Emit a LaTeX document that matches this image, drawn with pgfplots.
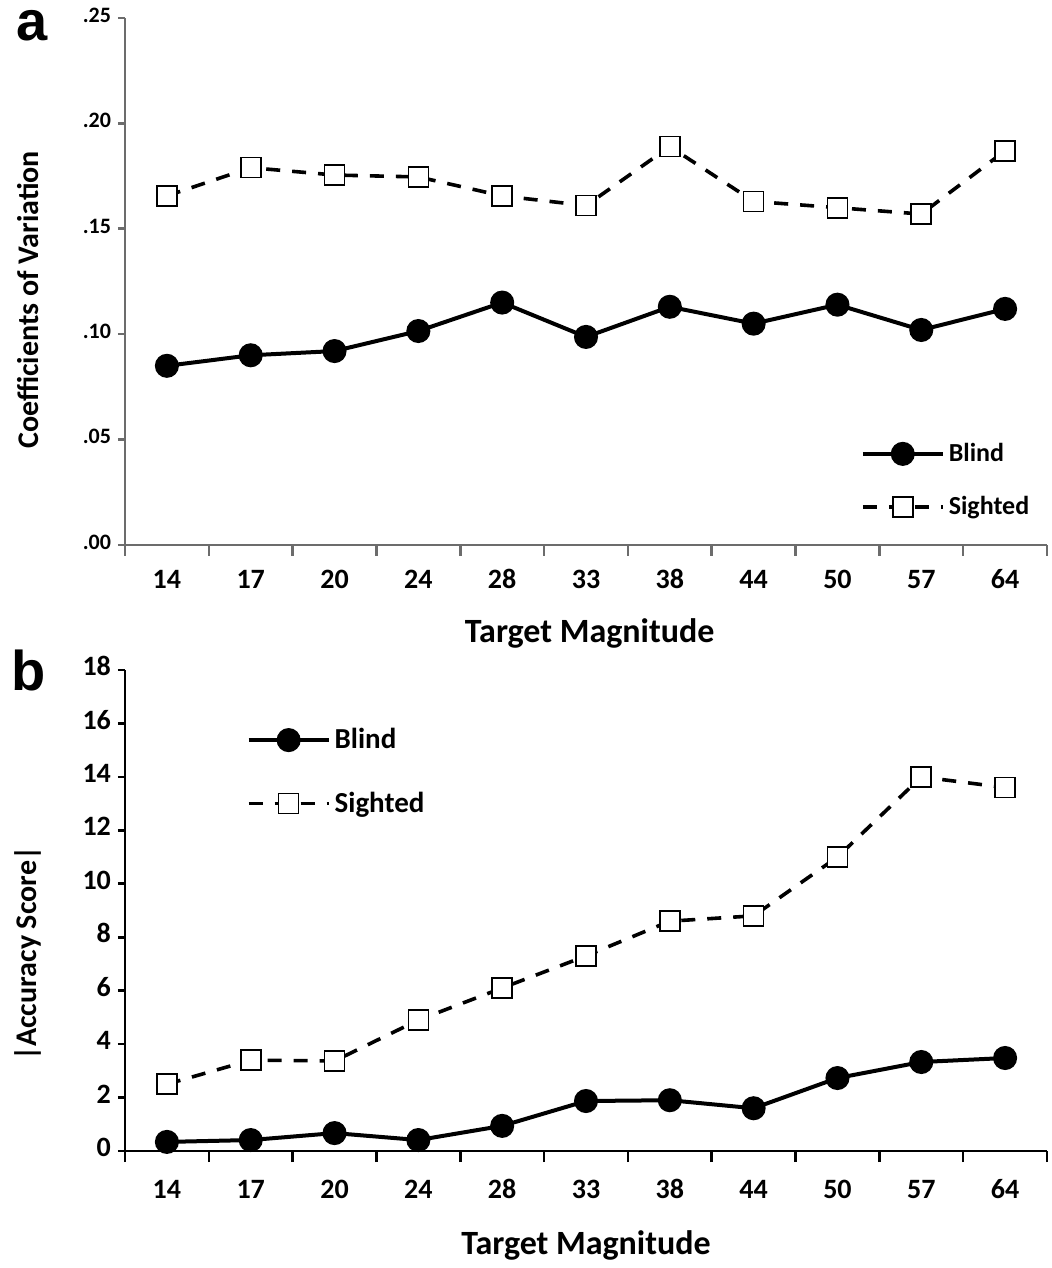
\documentclass[border=0pt]{standalone}
\usepackage{pgfplots}
\pgfplotsset{compat=1.18}
\usepackage{fontspec}
\setmainfont{Carlito}
\newfontfamily\panelfont{Liberation Sans}

\pgfplotsset{
  cvstyle/.style={
    scale only axis,
    xmin=-0.5, xmax=10.5,
    axis x line*=bottom, axis y line*=left,
    tick align=outside,
    xtick={0,...,10},
    xticklabels={14,17,20,24,28,33,38,44,50,57,64},
    major x tick style={draw=none},
    minor xtick={-0.5,0.5,...,10.5},
    major tick length=3.5pt,
    minor tick length=5.5pt,
    clip=false,
    typeset ticklabels with strut,
    /pgf/number format/assume math mode=true,
    legend cell align=left,
    legend image code/.code={
      \draw[mark repeat=2,mark phase=2,##1] plot coordinates {(0pt,0pt) (20pt,0pt) (40pt,0pt)};
    },
  },
  blind/.style={black, line width=2pt, mark=*, mark size=5pt},
  sighted/.style={black, line width=1.8pt, dash pattern=on 7pt off 6pt,
    mark=square*, mark size=5pt, mark options={solid, fill=white, line width=0.8pt}},
}

\begin{document}
\begin{tikzpicture}
\path[use as bounding box] (-62.5pt,-58.5pt) rectangle (463.5pt,575.5pt);

% panel a
\begin{axis}[
  cvstyle,
  at={(0,303pt)}, anchor=south west,
  width=461pt, height=263.5pt,
  ymin=0, ymax=0.25,
  ytick={0,0.05,0.10,0.15,0.20,0.25},
  yticklabels={.00,.05,.10,.15,.20,.25},
  axis line style={-, line width=1.3pt, gray!85!black},
  every tick/.style={line width=1.3pt, gray!85!black},
  yticklabel style={font=\bfseries\fontsize{11}{11}\selectfont},
  xticklabel style={font=\bfseries\fontsize{14}{14}\selectfont, yshift=-5pt},
  xlabel={Target Magnitude},
  ylabel={Coefficients of Variation},
  xlabel style={font=\bfseries\fontsize{17}{17}\selectfont, at={(axis description cs:0.504,0)}, anchor=center, yshift=-44pt},
  ylabel style={font=\bfseries\fontsize{15}{15}\selectfont, at={(axis description cs:-0.105,0.465)}, anchor=center},
  legend style={draw=none, fill=none, at={(0.992,0.209)}, anchor=north east,
    font=\bfseries\fontsize{13}{13}\selectfont, row sep=12pt},
]
\addplot[blind] coordinates {
  (0,0.085) (1,0.090) (2,0.092) (3,0.1015) (4,0.115) (5,0.0987)
  (6,0.113) (7,0.105) (8,0.114) (9,0.102) (10,0.112)
};
\addplot[sighted] coordinates {
  (0,0.1656) (1,0.179) (2,0.1755) (3,0.1746) (4,0.1656) (5,0.161)
  (6,0.189) (7,0.163) (8,0.160) (9,0.157) (10,0.187)
};
\legend{Blind,Sighted}
\node[font=\panelfont\bfseries\fontsize{28}{28}\selectfont, inner sep=0pt] at (rel axis cs:-0.101,0.985) {a};
\end{axis}

% panel b
\begin{axis}[
  cvstyle,
  at={(0,0)}, anchor=south west,
  width=461pt, height=240.5pt,
  ymin=0, ymax=18,
  ytick={0,2,...,18},
  axis line style={-, line width=1.3pt, black},
  every tick/.style={line width=1.3pt, black},
  yticklabel style={font=\bfseries\fontsize{14}{14}\selectfont},
  xticklabel style={font=\bfseries\fontsize{14}{14}\selectfont, yshift=-7pt},
  xlabel={Target Magnitude},
  ylabel={|Accuracy Score|},
  xlabel style={font=\bfseries\fontsize{17}{17}\selectfont, at={(axis description cs:0.5,0)}, anchor=center, yshift=-47pt},
  ylabel style={font=\bfseries\fontsize{15}{15}\selectfont, at={(axis description cs:-0.105,0.41)}, anchor=center},
  legend style={draw=none, fill=none, at={(0.125,0.896)}, anchor=north west,
    font=\bfseries\fontsize{14.5}{14.5}\selectfont, row sep=16pt},
]
\addplot[blind] coordinates {
  (0,0.34) (1,0.41) (2,0.67) (3,0.41) (4,0.94) (5,1.87)
  (6,1.9) (7,1.6) (8,2.73) (9,3.33) (10,3.48)
};
\addplot[sighted] coordinates {
  (0,2.5) (1,3.4) (2,3.37) (3,4.9) (4,6.1) (5,7.3)
  (6,8.6) (7,8.8) (8,11.0) (9,14.0) (10,13.6)
};
\legend{Blind,Sighted}
\node[font=\panelfont\bfseries\fontsize{28}{28}\selectfont, inner sep=0pt] at (rel axis cs:-0.105,1.0) {b};
\end{axis}
\end{tikzpicture}
\end{document}
